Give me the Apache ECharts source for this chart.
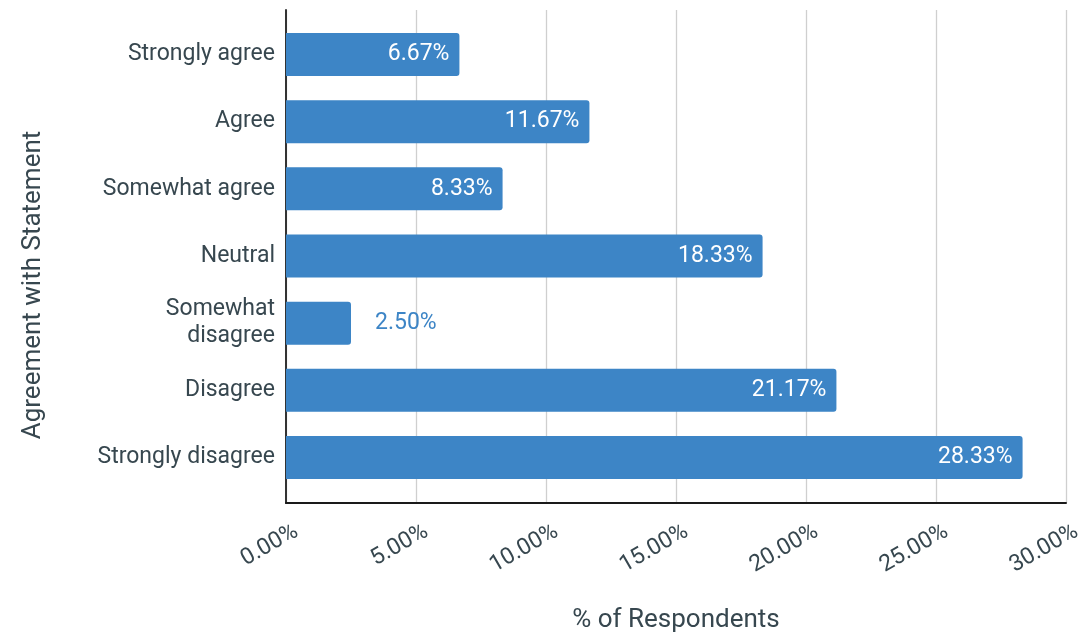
<!DOCTYPE html>
<html>
<head>
<meta charset="utf-8">
<script src="https://cdn.jsdelivr.net/npm/echarts@6/dist/echarts.min.js"></script>
<style>html,body{margin:0;padding:0;background:#fff}#c{width:1082px;height:635px}</style>
</head>
<body>
<div id="c"></div>
<script>
const categories = ["Strongly agree", "Agree", "Somewhat agree", "Neutral", "Somewhat\ndisagree", "Disagree", "Strongly disagree"];
const values = [6.67, 11.67, 8.33, 18.33, 2.50, 21.17, 28.33];
const xTicks = [0, 5, 10, 15, 20, 25, 30];
const xTitle = "% of Respondents";
const yTitle = "Agreement with Statement";

const TXT = '#37474f';
const BLUE = '#3d85c6';
const FONT = 'Roboto';
const chart = echarts.init(document.getElementById('c'), null, {renderer: 'canvas'});
chart.setOption({
  animation: false,
  textStyle: {fontFamily: FONT},
  grid: [
    {left: 286, right: 16, top: 10, height: 493, containLabel: false, outerBoundsMode: 'none'},
    {left: 286, right: 16, top: 21, height: 470, containLabel: false, outerBoundsMode: 'none'}
  ],
  xAxis: [
    {
      gridIndex: 0, type: 'value', min: xTicks[0], max: xTicks[xTicks.length - 1], interval: 5,
      axisLine: {show: true, lineStyle: {color: '#1a1a1a', width: 2}},
      axisTick: {show: false},
      splitLine: {show: true, lineStyle: {color: '#cfcfcf', width: 1.3}},
      axisLabel: {
        rotate: 30, margin: 33, color: TXT, fontSize: 23, fontFamily: FONT,
        padding: [0, -12, 0, 0],
        formatter: v => v.toFixed(2) + '%'
      }
    },
    {
      gridIndex: 1, type: 'value', min: 0, max: 30, show: false
    }
  ],
  yAxis: [
    {
      gridIndex: 0, type: 'value', min: 0, max: 1,
      axisLine: {show: true, lineStyle: {color: '#333', width: 2}},
      axisTick: {show: false}, axisLabel: {show: false}, splitLine: {show: false}
    },
    {
      gridIndex: 1, type: 'category', data: categories, inverse: true,
      axisLine: {show: false}, axisTick: {show: false},
      axisLabel: {color: TXT, fontSize: 23, fontFamily: FONT, margin: 11, lineHeight: 27, align: 'right', padding: [3, 0, 0, 0]}
    }
  ],
  series: [{
    type: 'bar', xAxisIndex: 1, yAxisIndex: 1, data: values.map(v => ({
      value: v,
      label: v < 5 ? {position: 'right', distance: 24, color: BLUE} : {position: 'insideRight', distance: 10, color: '#fff'}
    })),
    barWidth: 43,
    itemStyle: {color: BLUE, borderRadius: [0, 3, 3, 0]},
    label: {show: true, fontSize: 23, fontFamily: FONT, formatter: p => p.value.toFixed(2) + '%'}
  }],
  graphic: [
    {type: 'text', x: 676, y: 620, style: {text: xTitle, align: 'center', verticalAlign: 'middle', fill: TXT, fontSize: 26, fontFamily: FONT}},
    {type: 'text', x: 33, y: 285, rotation: Math.PI / 2, style: {text: yTitle, align: 'center', verticalAlign: 'middle', fill: TXT, fontSize: 26, fontFamily: FONT}}
  ]
});
</script>
</body>
</html>
